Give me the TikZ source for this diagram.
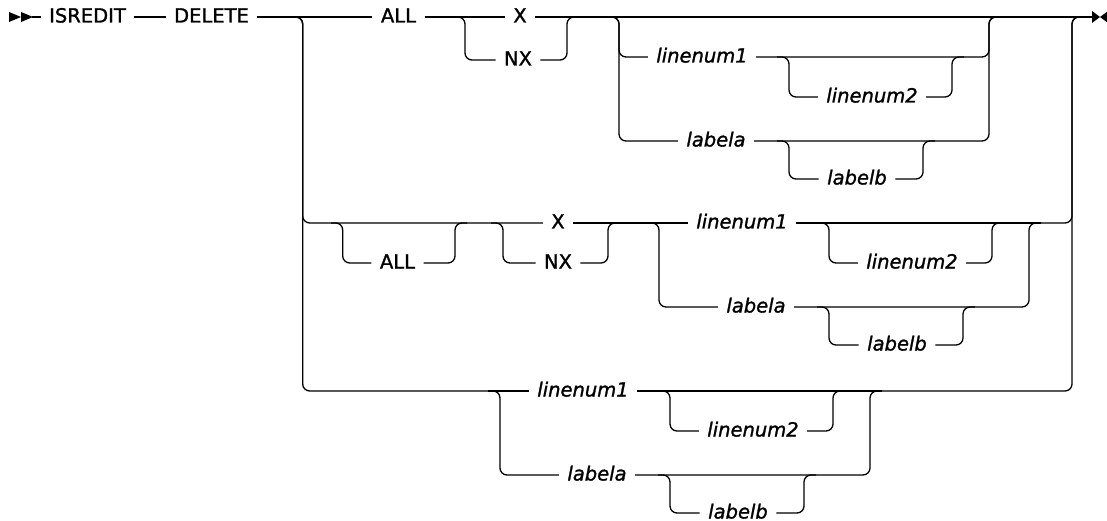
\documentclass[tikz,border=0pt]{standalone}
\usepackage{fontspec}
\setmainfont[FakeBold=1.3]{DejaVu Sans}
\tikzset{
  ln/.style={line width=1.3pt},
  rr/.style={line width=1.3pt, rounded corners=7pt},
  kw/.style={font=\fontsize{19.5}{22}\selectfont, inner xsep=8.5pt, inner ysep=0pt, outer sep=0pt,
             text height=14.2pt, text depth=0pt, anchor=center, yshift=1.6pt},
  var/.style={kw, font=\fontsize{19.5}{22}\selectfont\itshape},
  endmark/.style={fill=black},
}
% #1 prefix, #2 left x (G), #3 first-row y, #4 y of the line it hangs from
\newcommand{\lngroup}[4]{%
  \node[var] (#1n1) at (#2+83,#3) {linenum1};
  \node[var] (#1n2) at (#2+253,#3+40) {linenum2};
  \node[var] (#1la) at (#2+97,#3+84) {labela};
  \node[var] (#1lb) at (#2+238,#3+122) {labelb};
  \coordinate (#1in) at (#2-12,#4);
  \coordinate (#1out) at (#2+382,#4);
  \coordinate (#1b1) at (#2+158,#3);
  \coordinate (#1b2) at (#2+345,#3);
  \coordinate (#1b3) at (#2+158,#3+84);
  \coordinate (#1b4) at (#2+316,#3+84);
  \coordinate (#1c2) at (#2,#3+40);
  \coordinate (#1c4) at (#2,#3+122);
  \ifdim #3pt=#4pt
    \draw[ln] (#1in) -- (#1n1.west|-#1in);
    \draw[ln] (#1n1.east|-#1in) -- (#1out);
  \else
    \draw[rr] (#1in) -- (#2,#4) -- (#2,#3) -- (#1n1.west|-#1b1);
    \draw[rr] (#1n1.east|-#1b1) -- (#2+370,#3) -- (#2+370,#4) -- (#1out);
  \fi
  \draw[rr] (#1in) -- (#2,#4) -- (#2,#3+84) -- (#1la.west|-#1b3);
  \draw[rr] (#1la.east|-#1b3) -- (#2+370,#3+84) -- (#2+370,#4) -- (#1out);
  \draw[rr] (#1b1) -- (#2+170,#3) -- (#2+170,#3+40) -- (#1n2.west|-#1c2);
  \draw[rr] (#1n2.east|-#1c2) -- (#2+333,#3+40) -- (#2+333,#3) -- (#1b2);
  \draw[rr] (#1b3) -- (#2+170,#3+84) -- (#2+170,#3+122) -- (#1lb.west|-#1c4);
  \draw[rr] (#1lb.east|-#1c4) -- (#2+304,#3+122) -- (#2+304,#3+84) -- (#1b4);
}
\begin{document}
\begin{tikzpicture}[x=1pt,y=-1pt]
\fill[white] (0,0) rectangle (1107,521);
\useasboundingbox (0,0) rectangle (1107,521);
% start and end markers
\fill[endmark] (9,12) -- (21,17) -- (9,22) -- cycle;
\fill[endmark] (21,12) -- (33,17) -- (21,22) -- cycle;
\coordinate (start) at (32,17);
\coordinate (end) at (1093,17);
\fill[endmark] (1092,11) -- (1100,17) -- (1092,23) -- cycle;
\fill[endmark] (1108,11) -- (1100,17) -- (1108,23) -- cycle;
% row 1
\coordinate (r1) at (0,17);
\node[kw] (isr) at (87.5,17) {ISREDIT};
\node[kw] (del) at (211.5,17) {DELETE};
\node[kw] (all1) at (398.5,17) {ALL};
\node[kw] (x1) at (520,17) {X};
\node[kw] (nx1) at (518,60) {NX};
\coordinate (r1b) at (0,60);
\draw[ln] (start) -- (isr.west|-r1);
\draw[ln] (isr.east|-r1) -- (del.west|-r1);
\draw[ln] (del.east|-r1) -- (all1.west|-r1);
\draw[ln] (all1.east|-r1) -- (x1.west|-r1);
\draw[ln] (x1.east|-r1) -- (end);
\coordinate (xa1) at (453,17);
\coordinate (xb1) at (579,17);
\draw[rr] (xa1) -- (465,17) -- (465,60) -- (nx1.west|-r1b);
\draw[rr] (nx1.east|-r1b) -- (567,60) -- (567,17) -- (xb1);
\lngroup{g1}{619}{57}{17}
% row 2
\coordinate (mainL) at (291,17);
\coordinate (mainR) at (1084,17);
\coordinate (r2) at (0,223);
\coordinate (r2b) at (0,263);
\node[kw] (all2) at (397.5,263) {ALL};
\node[kw] (x2) at (558,223) {X};
\node[kw] (nx2) at (558,263) {NX};
\draw[rr] (mainL) -- (302.7,17) -- (302.7,223) -- (x2.west|-r2);
\coordinate (aa2) at (331,223);
\coordinate (ab2) at (467,223);
\draw[rr] (aa2) -- (342.7,223) -- (342.7,263) -- (all2.west|-r2b);
\draw[rr] (all2.east|-r2b) -- (455,263) -- (455,223) -- (ab2);
\coordinate (xa2) at (491,223);
\coordinate (xb2) at (620,223);
\draw[rr] (xa2) -- (503,223) -- (503,263) -- (nx2.west|-r2b);
\draw[rr] (nx2.east|-r2b) -- (608,263) -- (608,223) -- (xb2);
\lngroup{g2}{659}{223}{223}
\draw[ln] (x2.east|-r2) -- (g2in);
\draw[rr] (g2out) -- (1072,223) -- (1072,17) -- (mainR);
% row 3
\lngroup{g3}{500}{391}{391}
\draw[rr] (mainL) -- (302.7,17) -- (302.7,391) -- (g3in);
\draw[rr] (g3out) -- (1072,391) -- (1072,17) -- (mainR);
\end{tikzpicture}
\end{document}
